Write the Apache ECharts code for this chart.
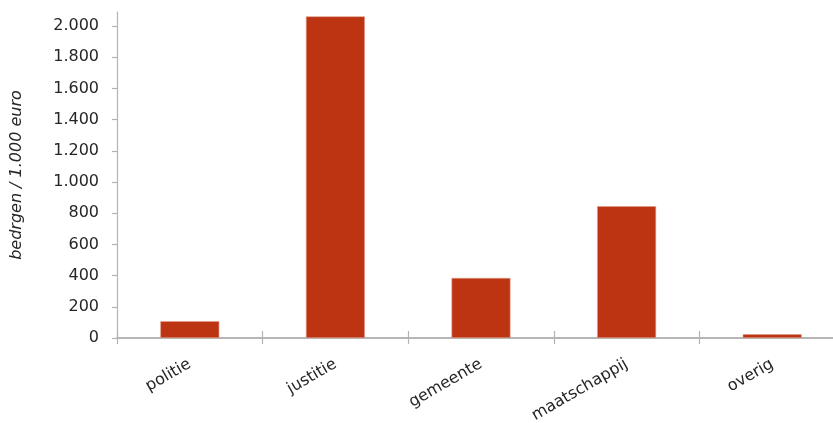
<!DOCTYPE html>
<html>
<head>
<meta charset="utf-8">
<script src="https://cdn.jsdelivr.net/npm/echarts@6/dist/echarts.min.js"></script>
<style>html,body{margin:0;padding:0;background:#fff}#c{width:833px;height:423px}</style>
</head>
<body>
<div id="c"></div>
<script>
const categories = ['politie', 'justitie', 'gemeente', 'maatschappij', 'overig'];
const values = [108, 2062, 385, 845, 24];
const yTicks = [0, 200, 400, 600, 800, 1000, 1200, 1400, 1600, 1800, 2000];
const yAxisTitle = 'bedrgen / 1.000 euro';

const fmt = v => String(v).replace(/\B(?=(\d{3})+(?!\d))/g, '.');
const axisGray = '#b3b3b3';
const textColor = '#262626';
const font = 'DejaVu Sans';

const chart = echarts.init(document.getElementById('c'), null, {renderer: 'canvas'});
chart.setOption({
  animation: false,
  grid: {left: 117, right: -12, top: 12, bottom: 85, outerBoundsMode: 'none'},
  xAxis: [{
    type: 'category',
    data: categories,
    boundaryGap: true,
    axisLine: {lineStyle: {color: axisGray, width: 1.5}},
    axisTick: {show: true, alignWithLabel: false, length: 6, lineStyle: {color: axisGray, width: 1.2}},
    axisLabel: {rotate: 30, margin: 25, color: textColor, fontFamily: font, fontSize: 16}
  }, {
    type: 'category',
    data: categories,
    position: 'bottom',
    boundaryGap: true,
    axisLine: {show: true, lineStyle: {color: axisGray, width: 1.5}},
    axisTick: {show: true, inside: true, length: 7, lineStyle: {color: axisGray, width: 1.2}},
    axisLabel: {show: false}
  }],
  yAxis: {
    type: 'value',
    min: 0,
    max: 2090,
    interval: 200,
    name: yAxisTitle,
    nameLocation: 'middle',
    nameGap: 92,
    nameRotate: 90,
    nameTextStyle: {fontStyle: 'italic', fontFamily: font, fontSize: 16, color: textColor},
    axisLine: {show: true, lineStyle: {color: axisGray, width: 1.2}},
    axisTick: {show: true, length: 5, customValues: yTicks, lineStyle: {color: axisGray, width: 1.2}},
    splitLine: {show: false},
    axisLabel: {customValues: yTicks, margin: 18, color: textColor, fontFamily: font, fontSize: 16, formatter: v => fmt(v)}
  },
  series: [{
    type: 'bar',
    data: values,
    xAxisIndex: 0,
    barWidth: '40.5%',
    itemStyle: {color: '#BC3412', borderColor: '#e3a08c', borderWidth: 0.6}
  }]
});
</script>
</body>
</html>
